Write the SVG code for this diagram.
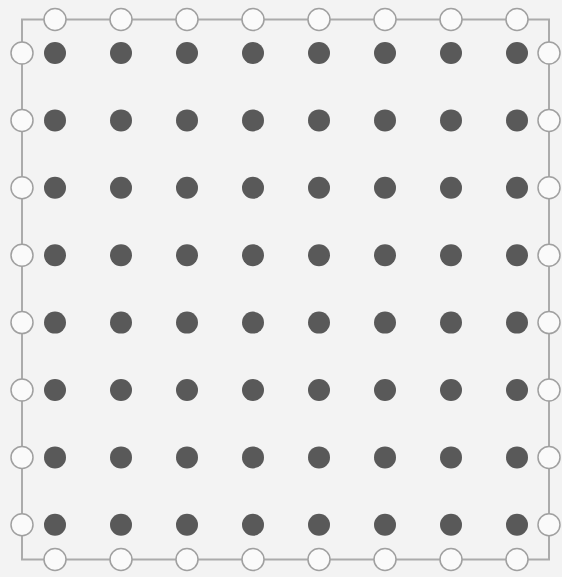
<svg xmlns="http://www.w3.org/2000/svg" width="562" height="577" viewBox="0 0 562 577">
<style>
.d{fill:#595959}
.o{fill:#fafafa;stroke:#a0a0a0;stroke-width:1.5}
.e{fill:none;stroke:#ababab;stroke-width:2}
</style>
<defs>
<circle id="dot" r="11" class="d"/>
<circle id="ring" r="11" class="o"/>
</defs>
<rect width="562" height="577" fill="#f3f3f3"/>
<g id="connectors">
<rect class="e" x="22" y="19.5" width="527" height="540"/>
</g>
<g id="dots">
<g id="r1"><use href="#dot" x="55" y="53"/><use href="#dot" x="121" y="53"/><use href="#dot" x="187" y="53"/><use href="#dot" x="253" y="53"/><use href="#dot" x="319" y="53"/><use href="#dot" x="385" y="53"/><use href="#dot" x="451" y="53"/><use href="#dot" x="517" y="53"/></g>
<g id="r2"><use href="#dot" x="55" y="120.4"/><use href="#dot" x="121" y="120.4"/><use href="#dot" x="187" y="120.4"/><use href="#dot" x="253" y="120.4"/><use href="#dot" x="319" y="120.4"/><use href="#dot" x="385" y="120.4"/><use href="#dot" x="451" y="120.4"/><use href="#dot" x="517" y="120.4"/></g>
<g id="r3"><use href="#dot" x="55" y="187.8"/><use href="#dot" x="121" y="187.8"/><use href="#dot" x="187" y="187.8"/><use href="#dot" x="253" y="187.8"/><use href="#dot" x="319" y="187.8"/><use href="#dot" x="385" y="187.8"/><use href="#dot" x="451" y="187.8"/><use href="#dot" x="517" y="187.8"/></g>
<g id="r4"><use href="#dot" x="55" y="255.2"/><use href="#dot" x="121" y="255.2"/><use href="#dot" x="187" y="255.2"/><use href="#dot" x="253" y="255.2"/><use href="#dot" x="319" y="255.2"/><use href="#dot" x="385" y="255.2"/><use href="#dot" x="451" y="255.2"/><use href="#dot" x="517" y="255.2"/></g>
<g id="r5"><use href="#dot" x="55" y="322.6"/><use href="#dot" x="121" y="322.6"/><use href="#dot" x="187" y="322.6"/><use href="#dot" x="253" y="322.6"/><use href="#dot" x="319" y="322.6"/><use href="#dot" x="385" y="322.6"/><use href="#dot" x="451" y="322.6"/><use href="#dot" x="517" y="322.6"/></g>
<g id="r6"><use href="#dot" x="55" y="390"/><use href="#dot" x="121" y="390"/><use href="#dot" x="187" y="390"/><use href="#dot" x="253" y="390"/><use href="#dot" x="319" y="390"/><use href="#dot" x="385" y="390"/><use href="#dot" x="451" y="390"/><use href="#dot" x="517" y="390"/></g>
<g id="r7"><use href="#dot" x="55" y="457.4"/><use href="#dot" x="121" y="457.4"/><use href="#dot" x="187" y="457.4"/><use href="#dot" x="253" y="457.4"/><use href="#dot" x="319" y="457.4"/><use href="#dot" x="385" y="457.4"/><use href="#dot" x="451" y="457.4"/><use href="#dot" x="517" y="457.4"/></g>
<g id="r8"><use href="#dot" x="55" y="524.8"/><use href="#dot" x="121" y="524.8"/><use href="#dot" x="187" y="524.8"/><use href="#dot" x="253" y="524.8"/><use href="#dot" x="319" y="524.8"/><use href="#dot" x="385" y="524.8"/><use href="#dot" x="451" y="524.8"/><use href="#dot" x="517" y="524.8"/></g>
</g>
<g id="ports-top"><use href="#ring" x="55" y="19.5"/><use href="#ring" x="121" y="19.5"/><use href="#ring" x="187" y="19.5"/><use href="#ring" x="253" y="19.5"/><use href="#ring" x="319" y="19.5"/><use href="#ring" x="385" y="19.5"/><use href="#ring" x="451" y="19.5"/><use href="#ring" x="517" y="19.5"/></g>
<g id="ports-bottom"><use href="#ring" x="55" y="559.5"/><use href="#ring" x="121" y="559.5"/><use href="#ring" x="187" y="559.5"/><use href="#ring" x="253" y="559.5"/><use href="#ring" x="319" y="559.5"/><use href="#ring" x="385" y="559.5"/><use href="#ring" x="451" y="559.5"/><use href="#ring" x="517" y="559.5"/></g>
<g id="ports-left"><use href="#ring" x="22" y="53"/><use href="#ring" x="22" y="120.4"/><use href="#ring" x="22" y="187.8"/><use href="#ring" x="22" y="255.2"/><use href="#ring" x="22" y="322.6"/><use href="#ring" x="22" y="390"/><use href="#ring" x="22" y="457.4"/><use href="#ring" x="22" y="524.8"/></g>
<g id="ports-right"><use href="#ring" x="549" y="53"/><use href="#ring" x="549" y="120.4"/><use href="#ring" x="549" y="187.8"/><use href="#ring" x="549" y="255.2"/><use href="#ring" x="549" y="322.6"/><use href="#ring" x="549" y="390"/><use href="#ring" x="549" y="457.4"/><use href="#ring" x="549" y="524.8"/></g>
</svg>
